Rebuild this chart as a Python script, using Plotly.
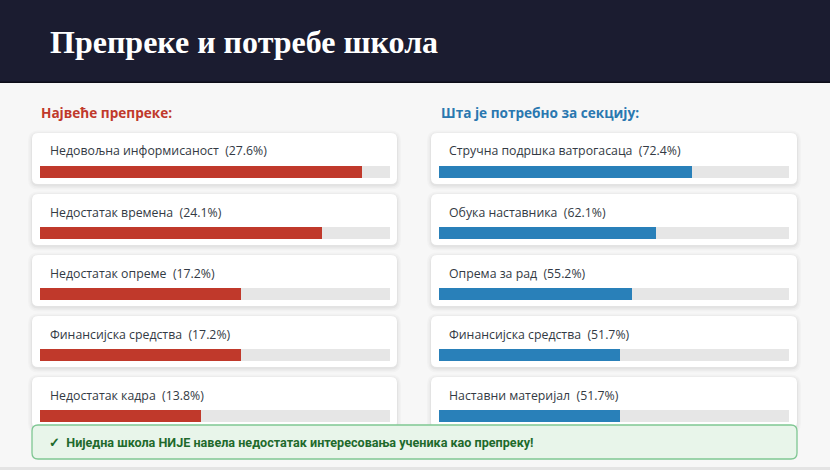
import plotly.graph_objects as go

# data
obstacles = ["Недовољна информисаност", "Недостатак времена", "Недостатак опреме",
             "Финансијска средства", "Недостатак кадра"]
obstacle_pct = [27.6, 24.1, 17.2, 17.2, 13.8]
needs = ["Стручна подршка ватрогасаца", "Обука наставника", "Опрема за рад",
         "Финансијска средства", "Наставни материјал"]
needs_pct = [72.4, 62.1, 55.2, 51.7, 51.7]
left_max = 30
right_max = 100

title = "Препреке и потребе школа"
left_title = "Највеће препреке:"
right_title = "Шта је потребно за секцију:"
note = "✓  Ниједна школа НИЈЕ навела недостатак интересовања ученика као препреку!"

W, H = 830, 470
RED = "#c0392b"
BLUE = "#2980b9"
TRACK = "#e6e6e6"
TXT = "#333a44"
FONT = "Open Sans"


def fx(p):
    return p / W


def fy(p):
    return 1 - p / H


def rrect(x0, y0, x1, y1, r):
    # rounded rectangle in pixels -> paper path
    X0, X1, Y0, Y1 = fx(x0), fx(x1), fy(y0), fy(y1)
    rx, ry = r / W, r / H
    return (f"M {X0+rx},{Y0} L {X1-rx},{Y0} Q {X1},{Y0} {X1},{Y0-ry} "
            f"L {X1},{Y1+ry} Q {X1},{Y1} {X1-rx},{Y1} L {X0+rx},{Y1} "
            f"Q {X0},{Y1} {X0},{Y1+ry} L {X0},{Y0-ry} Q {X0},{Y0} {X0+rx},{Y0} Z")


pitch = 61
first_bar = 171
bar_h = 12
idx = list(range(len(obstacles)))

fig = go.Figure()

for vals, names, mx, color, xa in [(obstacle_pct, obstacles, left_max, RED, "x"),
                                   (needs_pct, needs, right_max, BLUE, "x2")]:
    fig.add_trace(go.Bar(x=[mx] * len(vals), y=idx, orientation="h", width=bar_h / pitch,
                         marker=dict(color=TRACK, line=dict(width=0)), xaxis=xa, yaxis="y",
                         hoverinfo="skip"))
    fig.add_trace(go.Bar(x=vals, y=idx, orientation="h", width=bar_h / pitch,
                         marker=dict(color=color, line=dict(width=0)), xaxis=xa, yaxis="y",
                         customdata=names, hovertemplate="%{customdata}: %{x}%<extra></extra>"))

shapes = []
annotations = []

# header
shapes.append(dict(type="rect", xref="paper", yref="paper", x0=0, x1=1, y0=fy(82), y1=1,
                   fillcolor="#1b1c30", line=dict(width=0), layer="below"))
shapes.append(dict(type="rect", xref="paper", yref="paper", x0=0, x1=1, y0=fy(83), y1=fy(81.5),
                   fillcolor="#0d0d18", line=dict(width=0), layer="below"))
# bottom strip
shapes.append(dict(type="rect", xref="paper", yref="paper", x0=0, x1=1, y0=0, y1=fy(467),
                   fillcolor="#e4e4e4", line=dict(width=0), layer="below"))

annotations.append(dict(text=f"<b>{title}</b>", xref="paper", yref="paper", x=fx(48), y=fy(42),
                        xanchor="left", yanchor="middle", showarrow=False,
                        font=dict(family="Liberation Serif", size=32, color="white")))
annotations.append(dict(text=f"<b>{left_title}</b>", xref="paper", yref="paper", x=fx(39), y=fy(113),
                        xanchor="left", yanchor="middle", showarrow=False,
                        font=dict(family=FONT, size=13.6, color=RED)))
annotations.append(dict(text=f"<b>{right_title}</b>", xref="paper", yref="paper", x=fx(439), y=fy(113),
                        xanchor="left", yanchor="middle", showarrow=False,
                        font=dict(family=FONT, size=13.6, color="#2a78b0")))

for col_x0, col_x1, names, vals in [(32, 397, obstacles, obstacle_pct), (431, 797, needs, needs_pct)]:
    for i, (n, v) in enumerate(zip(names, vals)):
        top = 133 + pitch * i
        bot = top + 51
        for k, a in [(4, 0.018), (2.5, 0.025), (1, 0.035)]:
            shapes.append(dict(type="path", xref="paper", yref="paper", layer="below",
                               path=rrect(col_x0 - k, top - k + 1.5, col_x1 + k, bot + k + 1.5, 6 + k),
                               fillcolor=f"rgba(0,0,0,{a})", line=dict(width=0)))
        shapes.append(dict(type="path", xref="paper", yref="paper", layer="below",
                           path=rrect(col_x0, top, col_x1, bot, 6),
                           fillcolor="white", line=dict(width=0)))
        annotations.append(dict(text=f"{n}  ({v}%)", xref="paper", yref="paper",
                                x=fx(col_x0 + 16), y=fy(top + 18), xanchor="left", yanchor="middle",
                                showarrow=False, font=dict(family=FONT, size=12.3, color=TXT)))

# note box (drawn above bars)
shapes.append(dict(type="path", xref="paper", yref="paper", layer="above",
                   path=rrect(32, 425, 797, 459, 6), fillcolor="#e8f5ea",
                   line=dict(color="#7fc793", width=1.3)))
annotations.append(dict(text=f"<b>{note}</b>", xref="paper", yref="paper", x=fx(47), y=fy(442),
                        xanchor="left", yanchor="middle", showarrow=False,
                        font=dict(family="Roboto", size=12.6, color="#1e6a2c")))

fig.update_layout(
    width=W, height=H,
    margin=dict(l=0, r=0, t=0, b=0),
    paper_bgcolor="#f7f7f7", plot_bgcolor="rgba(0,0,0,0)",
    barmode="overlay", showlegend=False, bargap=0,
    xaxis=dict(domain=[fx(39.5), fx(390)], range=[0, left_max], visible=False, fixedrange=True),
    xaxis2=dict(domain=[fx(439), fx(789)], range=[0, right_max], visible=False, anchor="y",
                fixedrange=True),
    yaxis=dict(domain=[fy(first_bar + pitch * 4.5), fy(first_bar - pitch * 0.5)],
               range=[4.5, -0.5], visible=False, fixedrange=True),
    shapes=shapes, annotations=annotations,
)

fig.write_html("out.html", config={"displayModeBar": False},
               post_script="document.body.style.margin='0';")
